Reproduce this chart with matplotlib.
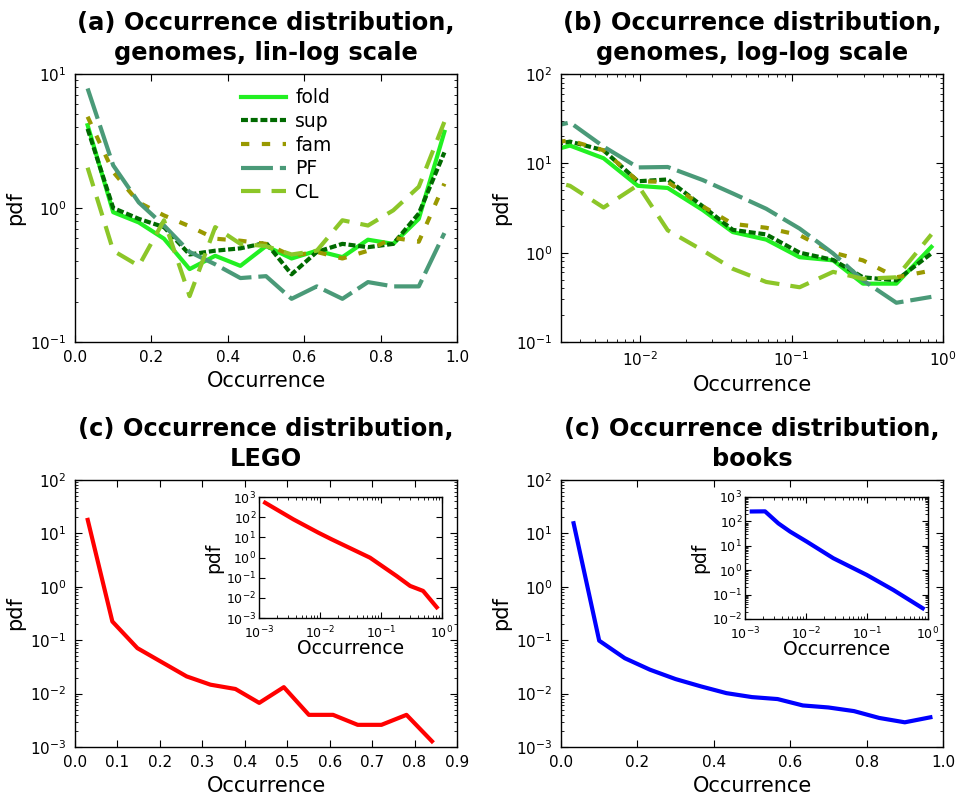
import matplotlib
matplotlib.use("Agg")
import matplotlib.pyplot as plt
import numpy as np

# ---------------- data ----------------
# (a) lin-log genomes
xa = [0.033, 0.1, 0.167, 0.233, 0.3, 0.367, 0.433, 0.5, 0.567, 0.633, 0.7, 0.767, 0.833, 0.9, 0.967]
fold_a = [4.15, 0.93, 0.78, 0.59, 0.35, 0.44, 0.37, 0.52, 0.42, 0.48, 0.43, 0.58, 0.54, 0.83, 3.7]
sup_a = [3.9, 1.0, 0.83, 0.72, 0.45, 0.48, 0.50, 0.55, 0.32, 0.47, 0.54, 0.51, 0.54, 0.91, 2.6]
fam_a = [4.8, 1.86, 1.1, 0.88, 0.73, 0.59, 0.57, 0.54, 0.44, 0.47, 0.42, 0.48, 0.60, 0.56, 1.52]
pf_a = [7.8, 2.08, 1.1, 0.74, 0.47, 0.38, 0.30, 0.31, 0.21, 0.26, 0.21, 0.28, 0.26, 0.26, 0.65]
cl_a = [2.0, 0.48, 0.37, 0.81, 0.22, 0.72, 0.54, 0.52, 0.45, 0.48, 0.81, 0.74, 0.96, 1.44, 4.4]

# (b) log-log genomes
xb = [0.00207, 0.00344, 0.00573, 0.00966, 0.0152, 0.0259, 0.0409, 0.068, 0.113, 0.188, 0.296, 0.492, 0.838]
fold_b = [12.5, 15.8, 11.4, 5.6, 5.3, 3.0, 1.7, 1.4, 0.89, 0.82, 0.45, 0.45, 1.16]
sup_b = [15.1, 17.5, 14.0, 6.3, 6.6, 3.3, 1.8, 1.6, 1.0, 0.83, 0.53, 0.49, 0.98]
fam_b = [16.5, 18.0, 14.0, 6.3, 6.2, 3.3, 2.1, 1.9, 1.57, 1.0, 0.82, 0.53, 0.63]
pf_b = [23.5, 28.7, 15.4, 9.0, 9.1, 6.5, 4.6, 3.1, 1.86, 0.98, 0.49, 0.275, 0.32]
cl_b = [7.0, 5.6, 3.2, 5.7, 1.78, 1.06, 0.66, 0.47, 0.41, 0.61, 0.51, 0.53, 1.6]

# (c) LEGO
xc = [0.030, 0.088, 0.147, 0.204, 0.263, 0.319, 0.378, 0.434, 0.492, 0.551, 0.608, 0.666, 0.722, 0.781, 0.841]
lego = [17.9, 0.224, 0.071, 0.039, 0.021, 0.0147, 0.0122, 0.0067, 0.0132, 0.0040, 0.0040, 0.0026, 0.0026, 0.0040, 0.00128]
xc_in = [0.00126, 0.00366, 0.0094, 0.0156, 0.066, 0.18, 0.3, 0.49, 0.82]
lego_in = [520, 78, 17, 7.9, 0.98, 0.121, 0.039, 0.022, 0.0034]

# (d) books
xd = [0.033, 0.1, 0.167, 0.233, 0.3, 0.367, 0.433, 0.5, 0.567, 0.633, 0.7, 0.767, 0.833, 0.9, 0.967]
books = [15.5, 0.098, 0.046, 0.028, 0.0187, 0.0136, 0.0102, 0.0086, 0.0079, 0.0060, 0.0055, 0.0047, 0.0035, 0.0029, 0.0036]
xd_in = [0.00129, 0.00213, 0.00352, 0.0055, 0.0103, 0.028, 0.099, 0.27, 0.82]
books_in = [255, 258, 83, 38, 14.8, 3.1, 0.64, 0.155, 0.0275]

labels = ["fold", "sup", "fam", "PF", "CL"]
colors = ["#22f022", "#006a00", "#999900", "#4a9a78", "#8cc628"]

# ---------------- style ----------------
plt.rcParams.update({
    "font.family": "DejaVu Sans",
    "xtick.direction": "in", "ytick.direction": "in",
    "xtick.top": True, "ytick.right": True,
    "xtick.major.size": 5, "ytick.major.size": 5,
    "xtick.minor.size": 2.5, "ytick.minor.size": 2.5,
    "xtick.labelsize": 11, "ytick.labelsize": 11,
    "axes.linewidth": 1.0,
    "lines.scale_dashes": False,
    "xtick.major.pad": 6, "ytick.major.pad": 6,
})

dash_styles = [
    None,              # solid
    (0, (5, 2)),       # sup
    (0, (6, 9)),       # fam
    (0, (23, 5)),      # PF
    (0, (14, 8)),      # CL
]

def style_line(ln, i):
    if dash_styles[i] is None:
        ln.set_linestyle("-")
    else:
        ln.set_linestyle(dash_styles[i])

fig = plt.figure(figsize=(9.6, 7.94), dpi=100)

W, H = 960.0, 794.0
def rect(l, t, r, b):
    return [l / W, 1 - b / H, (r - l) / W, (b - t) / H]

ax_a = fig.add_axes(rect(75, 74, 457, 342))
ax_b = fig.add_axes(rect(561, 74, 943, 342))
ax_c = fig.add_axes(rect(75, 480, 457, 747))
ax_d = fig.add_axes(rect(561, 480, 943, 747))
ax_ci = fig.add_axes(rect(259, 497, 442, 618))
ax_di = fig.add_axes(rect(745, 497, 928, 619))

title_kw = dict(fontsize=17.4, fontweight="bold", pad=10, linespacing=1.3)
lab_fs = 15

# (a)
ya = [fold_a, sup_a, fam_a, pf_a, cl_a]
for i, y in enumerate(ya):
    ln, = ax_a.plot(xa, y, color=colors[i], lw=3, label=labels[i])
    style_line(ln, i)
ax_a.set_yscale("log")
ax_a.set_xlim(0, 1)
ax_a.set_ylim(0.1, 10)
ax_a.set_xticks(np.arange(0, 1.01, 0.2))
ax_a.set_xlabel("Occurrence", fontsize=lab_fs)
ax_a.set_ylabel("pdf", fontsize=lab_fs)
ax_a.set_title("(a) Occurrence distribution,\ngenomes, lin-log scale", **title_kw)
ax_a.legend(loc="upper left", bbox_to_anchor=(0.415, 0.975), frameon=False,
            fontsize=13.5, handlelength=2.4, handletextpad=0.5, labelspacing=0.25,
            borderaxespad=0)

# (b)
yb = [fold_b, sup_b, fam_b, pf_b, cl_b]
for i, y in enumerate(yb):
    ln, = ax_b.plot(xb, y, color=colors[i], lw=3)
    style_line(ln, i)
ax_b.set_xscale("log")
ax_b.set_yscale("log")
ax_b.set_xlim(0.003, 1)
ax_b.set_ylim(0.1, 100)
ax_b.set_xlabel("Occurrence", fontsize=lab_fs)
ax_b.set_ylabel("pdf", fontsize=lab_fs)
ax_b.set_title("(b) Occurrence distribution,\ngenomes, log-log scale", **title_kw)

# (c)
ax_c.plot(xc, lego, color="#ff0000", lw=3)
ax_c.set_yscale("log")
ax_c.set_xlim(0, 0.9)
ax_c.set_ylim(1e-3, 1e2)
ax_c.set_xticks(np.arange(0, 0.91, 0.1))
ax_c.set_xlabel("Occurrence", fontsize=lab_fs)
ax_c.set_ylabel("pdf", fontsize=lab_fs)
ax_c.set_title("(c) Occurrence distribution,\nLEGO", **title_kw)

ax_ci.plot(xc_in, lego_in, color="#ff0000", lw=3)
ax_ci.set_xscale("log")
ax_ci.set_yscale("log")
ax_ci.set_xlim(1e-3, 1)
ax_ci.set_ylim(1e-3, 1e3)
ax_ci.set_yticks([1e-3, 1e-2, 1e-1, 1e0, 1e1, 1e2, 1e3])
ax_ci.tick_params(labelsize=9, which="both")
ax_ci.tick_params(axis="x", pad=4.5)
ax_ci.tick_params(axis="y", pad=2)
ax_ci.tick_params(which="major", length=4)
ax_ci.tick_params(which="minor", length=2)
ax_ci.set_xlabel("Occurrence", fontsize=13.5, labelpad=-1)
ax_ci.set_ylabel("pdf", fontsize=13.5, labelpad=2)

# (d)
ax_d.plot(xd, books, color="#0000ff", lw=3)
ax_d.set_yscale("log")
ax_d.set_xlim(0, 1)
ax_d.set_ylim(1e-3, 1e2)
ax_d.set_xticks(np.arange(0, 1.01, 0.2))
ax_d.set_xlabel("Occurrence", fontsize=lab_fs)
ax_d.set_ylabel("pdf", fontsize=lab_fs)
ax_d.set_title("(c) Occurrence distribution,\nbooks", **title_kw)

ax_di.plot(xd_in, books_in, color="#0000ff", lw=3)
ax_di.set_xscale("log")
ax_di.set_yscale("log")
ax_di.set_xlim(1e-3, 1)
ax_di.set_ylim(1e-2, 1e3)
ax_di.set_yticks([1e-2, 1e-1, 1e0, 1e1, 1e2, 1e3])
ax_di.tick_params(labelsize=9, which="both")
ax_di.tick_params(axis="x", pad=4.5)
ax_di.tick_params(axis="y", pad=2)
ax_di.tick_params(which="major", length=4)
ax_di.tick_params(which="minor", length=2)
ax_di.set_xlabel("Occurrence", fontsize=13.5, labelpad=-1)
ax_di.set_ylabel("pdf", fontsize=13.5, labelpad=2)

fig.savefig("out.png", dpi=100, facecolor="white")
